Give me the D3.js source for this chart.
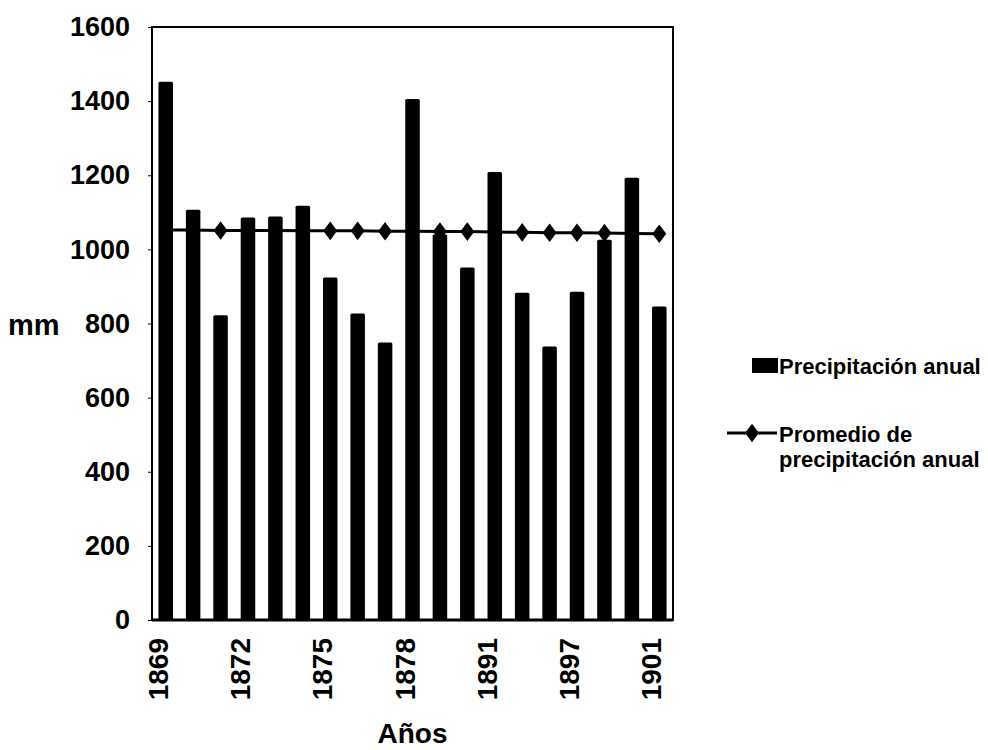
<!DOCTYPE html>
<html>
<head>
<meta charset="utf-8">
<style>
body { margin: 0; background: #fff; }
svg text { font-family: "Liberation Sans", Arial, sans-serif; font-weight: bold; fill: #000; }
.axis .domain { display: none; }
</style>
</head>
<body>
<svg width="988" height="750"></svg>
<script src="https://cdn.jsdelivr.net/npm/d3@7/dist/d3.min.js"></script>
<script>
// years on the x axis (only some are labelled in the original)
var years = ["1869", "1870", "1871", "1872", "1873", "1874", "1875", "1876", "1877", "1878",
             "1889", "1890", "1891", "1893", "1895", "1897", "1899", "1900", "1901"];
var tickYears = ["1869", "1872", "1875", "1878", "1891", "1897", "1901"];
// annual precipitation, mm
var precip = [1452, 1107, 822, 1086, 1089, 1118, 924, 827, 749, 1406,
              1040, 951, 1209, 883, 738, 886, 1026, 1193, 846];
// average precipitation, mm
var promedio = [1052, 1052, 1051, 1051, 1051, 1050, 1050, 1050, 1049, 1049,
                1048, 1048, 1047, 1046, 1045, 1045, 1044, 1043, 1042];
var yTicks = [0, 200, 400, 600, 800, 1000, 1200, 1400, 1600];

var svg = d3.select("svg"),
    plotLeft = 152, plotRight = 673, plotTop = 27, plotBottom = 620;

var x = d3.scaleBand()
    .domain(years)
    .range([plotLeft, plotRight])
    .paddingInner(0.47)
    .paddingOuter(0.235);

var y = d3.scaleLinear()
    .domain([0, 1600])
    .range([plotBottom, plotTop]);

// bars
svg.append("g")
  .selectAll("rect")
  .data(precip)
  .enter().append("rect")
    .attr("x", function(d, i) { return x(years[i]); })
    .attr("y", function(d) { return y(d); })
    .attr("width", x.bandwidth())
    .attr("height", function(d) { return y(0) - y(d); })
    .attr("rx", 1.5)
    .attr("fill", "#000");

// average line
var line = d3.line()
    .x(function(d, i) { return x(years[i]) + x.bandwidth() / 2; })
    .y(function(d) { return y(d); });

svg.append("path")
    .datum(promedio)
    .attr("d", line)
    .attr("fill", "none")
    .attr("stroke", "#000")
    .attr("stroke-width", 3);

var diamond = d3.symbol().type(d3.symbolDiamond).size(100);
svg.append("g")
  .selectAll("path")
  .data(promedio)
  .enter().append("path")
    .attr("d", diamond)
    .attr("transform", function(d, i) {
      return "translate(" + (x(years[i]) + x.bandwidth() / 2) + "," + y(d) + ") scale(1.3,1)";
    })
    .attr("fill", "#000");

// plot frame
svg.append("rect")
    .attr("x", plotLeft)
    .attr("y", plotTop)
    .attr("width", plotRight - plotLeft)
    .attr("height", plotBottom - plotTop)
    .attr("fill", "none")
    .attr("stroke", "#000")
    .attr("stroke-width", 2);
svg.append("line")
    .attr("x1", plotLeft).attr("x2", plotRight)
    .attr("y1", plotBottom).attr("y2", plotBottom)
    .attr("stroke", "#000")
    .attr("stroke-width", 3);

// y axis
var yAxis = svg.append("g")
    .attr("class", "axis")
    .attr("transform", "translate(" + plotLeft + ",0)")
    .call(d3.axisLeft(y).tickValues(yTicks).tickFormat(d3.format("d")).tickSize(4).tickPadding(18));
yAxis.selectAll("text").style("font-size", "27px");
yAxis.selectAll("line").attr("stroke-width", 1);

// x axis
var xAxis = svg.append("g")
    .attr("class", "axis")
    .attr("transform", "translate(0," + plotBottom + ")")
    .call(d3.axisBottom(x).tickValues(tickYears).tickSize(0).tickPadding(0));
xAxis.selectAll("text")
    .style("font-size", "28px")
    .attr("text-anchor", "end")
    .attr("dy", 0)
    .attr("transform", "translate(2,18) rotate(-90)")
    .attr("y", 0);

// axis titles
svg.append("text")
    .attr("x", 8)
    .attr("y", 335)
    .style("font-size", "29px")
    .text("mm");

svg.append("text")
    .attr("x", (plotLeft + plotRight) / 2)
    .attr("y", 743)
    .attr("text-anchor", "middle")
    .style("font-size", "28px")
    .text("Años");

// legend
var legend = svg.append("g").style("font-size", "22px");
legend.append("rect")
    .attr("x", 752).attr("y", 358)
    .attr("width", 26).attr("height", 15)
    .attr("fill", "#000");
legend.append("text")
    .attr("x", 779).attr("y", 374)
    .text("Precipitación anual");

legend.append("line")
    .attr("x1", 727).attr("x2", 777)
    .attr("y1", 433).attr("y2", 433)
    .attr("stroke", "#000")
    .attr("stroke-width", 3);
legend.append("path")
    .attr("d", diamond)
    .attr("transform", "translate(752,433) scale(1.3,1)")
    .attr("fill", "#000");
legend.append("text")
    .attr("x", 779).attr("y", 442)
    .text("Promedio de");
legend.append("text")
    .attr("x", 779).attr("y", 467)
    .text("precipitación anual");
</script>
</body>
</html>
